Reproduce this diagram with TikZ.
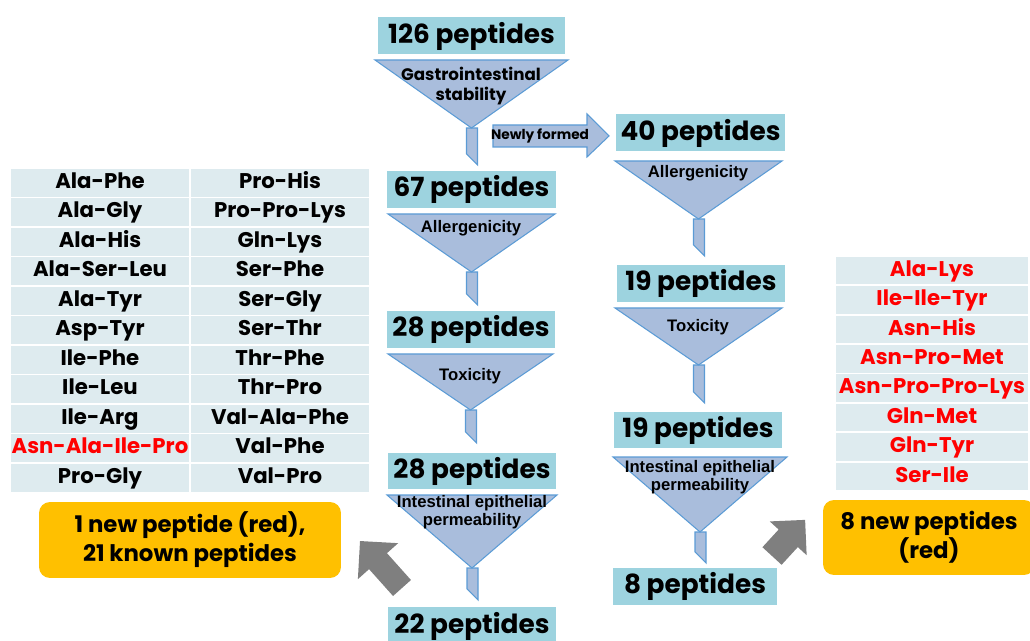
\documentclass[tikz,border=0pt]{standalone}
\usepackage{fontspec}
\setmainfont{Poppins}
\newfontfamily\arialf{Liberation Sans}

\definecolor{boxteal}{HTML}{9DD3DF}
\definecolor{funfill}{HTML}{A9BDDC}
\definecolor{fundraw}{HTML}{5B9BD5}
\definecolor{cellfill}{HTML}{DEEBEF}
\definecolor{gold}{HTML}{FFC000}
\definecolor{pepred}{HTML}{FF0000}
\definecolor{arrgrey}{HTML}{7F7F7F}

\newcommand{\funnel}[6]{%
  \pgfmathsetmacro{\fxc}{(#2+#3)/2}
  \draw[funnelshape] (\fxc-5,#5) -- (\fxc-5,#6-11) -- (\fxc+6,#6) -- (\fxc+6,#5) -- cycle;
  \draw[funnelshape] (#2,#4) -- (#3,#4) -- (\fxc,#5) coordinate (#1) -- cycle;
}

\begin{document}
\begin{tikzpicture}[x=0.02cm,y=-0.02cm,
    pepbox/.style={fill=boxteal,inner sep=0pt,minimum width=3.38cm,minimum height=0.74cm,font=\fontsize{15}{16}\selectfont\bfseries},
    funnelshape/.style={fill=funfill,draw=fundraw,line width=0.6pt,line join=miter},
    sift/.style={align=center,font=\arialf\fontsize{9.5}{10.5}\selectfont\bfseries},
    cell/.style={fill=cellfill,draw=white,line width=1pt,inner sep=0pt,minimum height=0.59cm,text height=8.8pt,text depth=2.5pt,font=\fontsize{12.1}{13}\selectfont\bfseries},
    gold/.style={fill=gold,rounded corners=0.22cm,align=center,inner sep=0pt,font=\fontsize{13}{16.5}\selectfont\bfseries},
    bigarrow/.style={fill=arrgrey}]
  \useasboundingbox (0,0) rectangle (1030,641);

  % left column
  \funnel{f1}{375}{568}{60}{128}{165}
  \funnel{f2}{388}{555}{214}{272}{305}
  \funnel{f3}{388}{553}{354}{410}{443}
  \funnel{f4}{387}{557}{495}{568}{600}
  \node[pepbox,minimum width=3.74cm] (p126) at (471.5,36) {126 peptides};
  \node[pepbox] (p67) at (471.5,189.5) {67 peptides};
  \node[pepbox] (p28a) at (471,329.5) {28 peptides};
  \node[pepbox] (p28b) at (472,471) {28 peptides};
  \node[pepbox,minimum height=0.78cm] (p22) at (472,626) {22 peptides};
  \node[sift,font=\fontsize{9.5}{11}\selectfont\bfseries] (s1) at (471,86) {Gastrointestinal\\stability};
  \node[sift] (s2) at (471,228) {Allergenicity};
  \node[sift] (s3) at (470,376) {Toxicity};
  \node[sift] (s4) at (472,512) {Intestinal epithelial\\permeability};

  % right column
  \funnel{f5}{615}{782}{161}{219}{256}
  \funnel{f6}{615}{782}{308}{365}{403}
  \funnel{f7}{613}{787}{457}{532}{563}
  \node[pepbox] (p40) at (700.5,133) {40 peptides};
  \node[pepbox] (p19a) at (701,283.5) {19 peptides};
  \node[pepbox] (p19b) at (698,430) {19 peptides};
  \node[pepbox,minimum width=3.28cm] (p8) at (695,586.5) {8 peptides};
  \node[sift] (s5) at (698,173) {Allergenicity};
  \node[sift] (s6) at (698,327) {Toxicity};
  \node[sift] (s7) at (700,477) {Intestinal epithelial\\permeability};

  \draw[funnelshape] (493,125) -- (587,125) -- (587,114) -- (609,136) -- (587,157) -- (587,147) -- (493,147) -- cycle;
  \node[font=\fontsize{7.8}{9}\selectfont\bfseries] (nf) at (540,136) {Newly formed};

  % peptide tables
  \foreach \a/\b [count=\i] in {Ala-Phe/Pro-His,Ala-Gly/Pro-Pro-Lys,Ala-His/Gln-Lys,Ala-Ser-Leu/Ser-Phe,
      Ala-Tyr/Ser-Gly,Asp-Tyr/Ser-Thr,Ile-Phe/Thr-Phe,Ile-Leu/Thr-Pro,Ile-Arg/Val-Ala-Phe,
      {\color{pepred}Asn-Ala-Ile-Pro}/Val-Phe,Pro-Gly/Val-Pro} {
    \node[cell,minimum width=3.6cm] (l\i) at (100,{168+29.5*\i-14.75}) {\a};
    \node[cell,minimum width=3.6cm] (r\i) at (280,{168+29.5*\i-14.75}) {\b};
  }
  \foreach \a [count=\i] in {Ala-Lys,Ile-Ile-Tyr,Asn-His,Asn-Pro-Met,Asn-Pro-Pro-Lys,Gln-Met,Gln-Tyr,Ser-Ile} {
    \node[cell,minimum width=3.88cm,text=pepred] (n\i) at (932,{256+29.4*\i-14.7}) {\a};
  }

  % summaries
  \node[gold,minimum width=6.04cm,minimum height=1.52cm] (sumL) at (190,540) {1 new peptide (red),\\21 known peptides};
  \node[gold,minimum width=4.24cm,minimum height=1.5cm] (sumR) at (929,537.5) {8 new peptides\\(red)};

  \begin{scope}[shift={(402,588)},rotate=131.8]
    \fill[bigarrow] (0,-12) -- (36,-12) -- (36,-27) -- (63,0) -- (36,27) -- (36,12) -- (0,12) -- cycle;
  \end{scope}
  \begin{scope}[shift={(772,556)},rotate=47.5]
    \fill[bigarrow] (0,-13) -- (24,-13) -- (24,-25) -- (49,0) -- (24,25) -- (24,13) -- (0,13) -- cycle;
  \end{scope}
\end{tikzpicture}
\end{document}
